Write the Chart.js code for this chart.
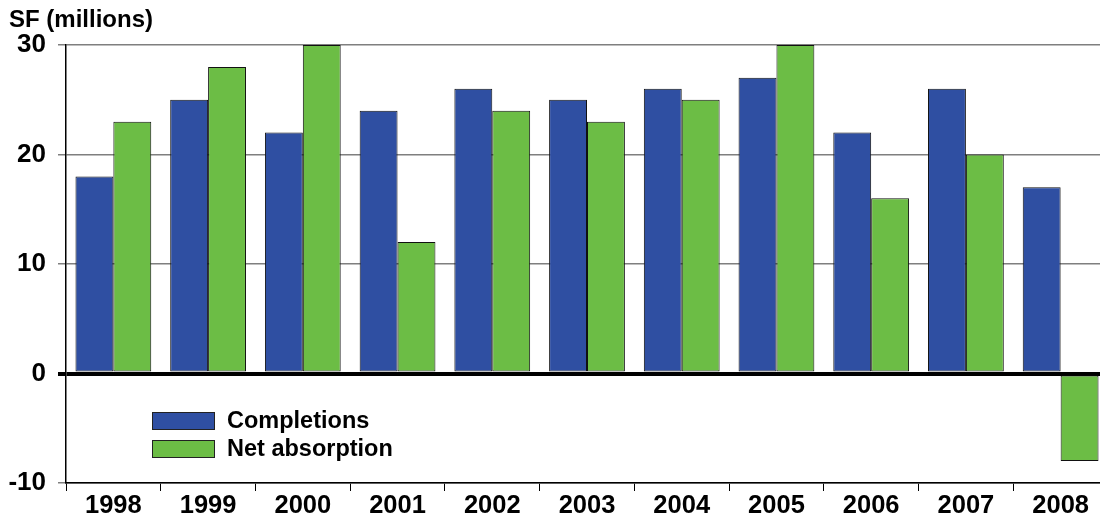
<!DOCTYPE html>
<html>
<head>
<meta charset="utf-8">
<script src="https://cdn.jsdelivr.net/npm/chart.js@4.4.1/dist/chart.umd.min.js"></script>
<style>
  html, body { margin: 0; padding: 0; background: #fff; overflow: hidden; }
  #wrap { width: 1100px; height: 518px; position: relative; overflow: hidden; }
</style>
</head>
<body>
<div id="wrap"><canvas id="c" width="1108" height="518"></canvas></div>
<script>
// Office market: annual completions vs. net absorption (million SF)
const years = ['1998','1999','2000','2001','2002','2003','2004','2005','2006','2007','2008'];
const completions = [18, 25, 22, 24, 26, 25, 26, 27, 22, 26, 17];
const netAbsorption = [23, 28, 30, 12, 24, 23, 25, 30, 16, 20, -8];
const yTicks = [-10, 0, 10, 20, 30];

const BLUE = '#2F4FA2';
const GREEN = '#6CBD45';
const FONT = '"Liberation Sans", Arial, sans-serif';

// Axis caption + in-plot legend
const decorations = {
  id: 'decorations',
  afterDraw(chart) {
    const ctx = chart.ctx;
    ctx.save();
    ctx.fillStyle = '#000';
    ctx.font = 'bold 24px ' + FONT;
    ctx.textBaseline = 'middle';
    ctx.textAlign = 'left';
    ctx.fillText('SF (millions)', 9, 20);

    const items = [
      { label: 'Completions', color: BLUE },
      { label: 'Net absorption', color: GREEN }
    ];
    const x0 = 152, y0 = 412, w = 62, h = 17, gap = 28;
    items.forEach((it, i) => {
      const y = y0 + i * gap;
      ctx.fillStyle = it.color;
      ctx.fillRect(x0, y, w, h);
      ctx.strokeStyle = '#222';
      ctx.lineWidth = 1;
      ctx.strokeRect(x0 + 0.5, y + 0.5, w, h);
      ctx.fillStyle = '#000';
      ctx.font = 'bold 23.5px ' + FONT;
      ctx.fillText(it.label, 227, y + h / 2 + 1);
    });
    ctx.restore();
  }
};

new Chart(document.getElementById('c'), {
  type: 'bar',
  data: {
    labels: years,
    datasets: [
      { label: 'Completions', data: completions, backgroundColor: BLUE,
        borderColor: '#111', borderWidth: 1, borderSkipped: false },
      { label: 'Net absorption', data: netAbsorption, backgroundColor: GREEN,
        borderColor: '#111', borderWidth: 1, borderSkipped: false }
    ]
  },
  options: {
    responsive: false,
    animation: false,
    layout: { padding: { top: 45, right: 0, left: 0, bottom: 0 } },
    datasets: { bar: { categoryPercentage: 0.8, barPercentage: 1.0 } },
    plugins: {
      legend: { display: false },
      tooltip: { enabled: false }
    },
    scales: {
      x: {
        offset: true,
        grid: {
          offset: true,
          drawOnChartArea: false,
          drawTicks: true,
          tickLength: 8,
          color: '#000',
          lineWidth: 1
        },
        border: { display: true, color: '#000', width: 1.5 },
        ticks: {
          color: '#000',
          font: { family: FONT, size: 25.5, weight: 'bold' },
          padding: 0,
          maxRotation: 0
        },
        afterFit(s) { s.height = 35; }
      },
      y: {
        min: -10,
        max: 30,
        afterBuildTicks(s) { s.ticks = yTicks.map(v => ({ value: v })); },
        grid: {
          color: ctx => (ctx.tick && ctx.tick.value === 0) ? '#000' : '#7f7f7f',
          lineWidth: ctx => (ctx.tick && ctx.tick.value === 0) ? 4 : 1.5,
          tickLength: 8,
          drawTicks: true
        },
        border: { display: true, color: '#000', width: 1.5 },
        ticks: {
          color: '#000',
          font: { family: FONT, size: 26, weight: 'bold' },
          padding: 12
        },
        afterFit(s) { s.width = 66; }
      }
    }
  },
  plugins: [decorations]
});
</script>
</body>
</html>
